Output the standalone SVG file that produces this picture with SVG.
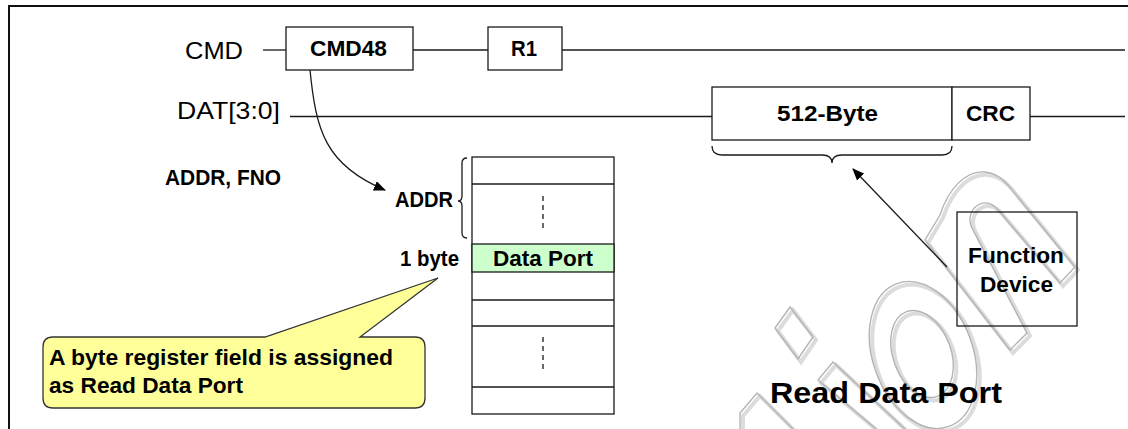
<svg xmlns="http://www.w3.org/2000/svg" width="1128" height="429" viewBox="0 0 1128 429">
<style>
.ln{fill:none;stroke:#1a1a1a;stroke-width:1.3}
.bx{fill:#fff;stroke:#1a1a1a;stroke-width:1.3}
.t{font-family:"Liberation Sans",Arial,sans-serif;fill:#000}
.r{font-size:24px}
.b{font-size:22px;font-weight:bold}
.wm{fill:none;stroke:#b4b4b4;stroke-width:1.4}
.wms{fill:none;stroke:#dcdcdc;stroke-width:4}
</style>
<defs>
<marker id="ah" viewBox="0 0 12 10" refX="11" refY="5" markerWidth="12" markerHeight="10" markerUnits="userSpaceOnUse" orient="auto">
<path d="M0,0 L12,5 L0,10 Z" fill="#000"/>
</marker>
</defs>
<rect width="1128" height="429" fill="#fff"/>
<g id="watermark">
<g transform="translate(3,3)" class="wms">
<polygon points="790,307 813,337 798,359 775,328"/>
<polyline points="740,429 740,413 757,393 793,429"/>
<polyline points="876,429 818,380 833,362 905,429"/>
<ellipse cx="923" cy="355" rx="50" ry="76" transform="rotate(-20 923 355)"/>
<ellipse cx="922" cy="354" rx="29" ry="45" transform="rotate(-20 922 354)"/>
<path d="M1010,350 L925,240 L940,215 C948,190 965,170 985,172 C995,173 1002,178 1008,185 L1075,267 L1060,283 L1000,212 C993,203 985,201 978,205 C970,210 968,220 972,228 L1027,333 Z"/>
</g>
<g class="wm">
<polygon points="790,307 813,337 798,359 775,328"/>
<polyline points="740,429 740,413 757,393 793,429"/>
<polyline points="876,429 818,380 833,362 905,429"/>
<ellipse cx="923" cy="355" rx="50" ry="76" transform="rotate(-20 923 355)"/>
<ellipse cx="922" cy="354" rx="29" ry="45" transform="rotate(-20 922 354)"/>
<path d="M1010,350 L925,240 L940,215 C948,190 965,170 985,172 C995,173 1002,178 1008,185 L1075,267 L1060,283 L1000,212 C993,203 985,201 978,205 C970,210 968,220 972,228 L1027,333 Z"/>
</g>
</g>
<rect x="9" y="6" width="1130" height="440" fill="none" stroke="#111" stroke-width="2"/>
<g id="connectors">
<line class="ln" x1="263" y1="50" x2="286" y2="50"/>
<line class="ln" x1="413" y1="50" x2="488" y2="50"/>
<line class="ln" x1="562" y1="50" x2="1125" y2="50"/>
<line class="ln" x1="290" y1="116.5" x2="712" y2="116.5"/>
<line class="ln" x1="1030" y1="116.5" x2="1125" y2="116.5"/>
<path class="ln" d="M310,70 C316,130 325,165 385,190" marker-end="url(#ah)"/>
<line class="ln" x1="947" y1="267" x2="853" y2="169" marker-end="url(#ah)"/>
<path class="ln" d="M712,146 Q712,155 722,155 L822,155 Q832,155 832,163 Q832,155 842,155 L942,155 Q952,155 952,146"/>
<path class="ln" d="M467,158 Q462,158 462,163 L462,196 Q462,201 458,201 Q462,201 462,206 L462,233 Q462,238 467,238"/>
</g>
<g id="labels">
<text class="t r" x="185" y="59" textLength="58" lengthAdjust="spacingAndGlyphs">CMD</text>
<text class="t r" x="177" y="119" textLength="103" lengthAdjust="spacingAndGlyphs">DAT[3:0]</text>
<text class="t b" x="165" y="185" textLength="116" lengthAdjust="spacingAndGlyphs">ADDR, FNO</text>
<text class="t b" x="395" y="207" textLength="58" lengthAdjust="spacingAndGlyphs">ADDR</text>
<text class="t b" x="400" y="266" textLength="59" lengthAdjust="spacingAndGlyphs">1 byte</text>
</g>
<g id="cmd48">
<rect class="bx" x="286" y="27" width="127" height="43"/>
<text class="t b" x="310" y="56" textLength="77" lengthAdjust="spacingAndGlyphs">CMD48</text>
</g>
<g id="r1">
<rect class="bx" x="488" y="27" width="74" height="43"/>
<text class="t b" x="511" y="56" textLength="26" lengthAdjust="spacingAndGlyphs">R1</text>
</g>
<g id="data512">
<rect class="bx" x="712" y="87" width="240" height="53"/>
<text class="t b" x="777" y="121" textLength="101" lengthAdjust="spacingAndGlyphs">512-Byte</text>
</g>
<g id="crc">
<rect class="bx" x="952" y="87" width="78" height="53"/>
<text class="t b" x="966" y="121" textLength="49" lengthAdjust="spacingAndGlyphs">CRC</text>
</g>
<g id="registers">
<rect class="bx" x="472" y="157" width="142" height="257"/>
<rect x="472" y="244" width="142" height="28" fill="#ccffcc" stroke="#1a1a1a" stroke-width="1.3"/>
<line class="ln" x1="472" y1="184" x2="614" y2="184"/>
<line class="ln" x1="472" y1="300" x2="614" y2="300"/>
<line class="ln" x1="472" y1="326" x2="614" y2="326"/>
<line class="ln" x1="472" y1="387" x2="614" y2="387"/>
<line class="ln" x1="543" y1="196" x2="543" y2="230" stroke-dasharray="5,4"/>
<line class="ln" x1="543" y1="337" x2="543" y2="371" stroke-dasharray="5,4"/>
<text class="t b" x="493" y="266" textLength="100" lengthAdjust="spacingAndGlyphs">Data Port</text>
</g>
<g id="callout">
<path d="M53,337 L265,337 L438,278 L360,337 L415,337 Q425,337 425,347 L425,398 Q425,408 415,408 L53,408 Q43,408 43,398 L43,347 Q43,337 53,337 Z" fill="#ffff99" stroke="#333" stroke-width="1.3"/>
<text class="t b" x="49" y="365" font-size="23" textLength="344" lengthAdjust="spacingAndGlyphs">A byte register field is assigned</text>
<text class="t b" x="49" y="393" font-size="23" textLength="194" lengthAdjust="spacingAndGlyphs">as Read Data Port</text>
</g>
<g id="function-device">
<rect x="957" y="212" width="120" height="114" fill="none" stroke="#1a1a1a" stroke-width="1.3"/>
<text class="t b" x="968" y="263" textLength="96" lengthAdjust="spacingAndGlyphs">Function</text>
<text class="t b" x="980" y="292" textLength="73" lengthAdjust="spacingAndGlyphs">Device</text>
</g>
<g id="title">
<text class="t" x="770" y="403" font-size="30" font-weight="bold" textLength="232" lengthAdjust="spacingAndGlyphs">Read Data Port</text>
</g>
</svg>
